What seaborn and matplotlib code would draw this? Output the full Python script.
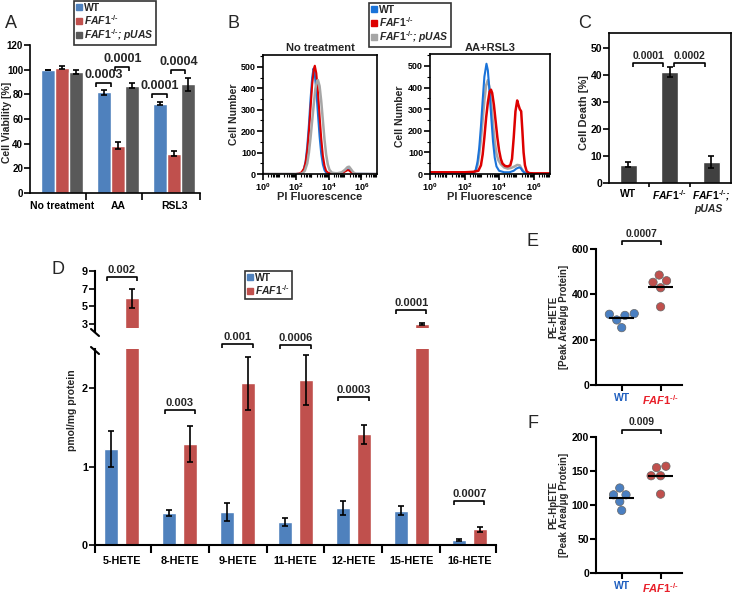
import numpy as np
import pandas as pd
import matplotlib
matplotlib.use("Agg")
import matplotlib.pyplot as plt
import seaborn as sns
from matplotlib.lines import Line2D
from matplotlib.ticker import AutoMinorLocator, LogLocator, NullFormatter

# ------------------------------------------------------------------ data
# Panel A: cell viability
A_treat = ["No treatment", "AA", "RSL3"]
A_wt = [100.0, 81.5, 72.5]
A_faf1 = [101.5, 38.5, 32.0]
A_puas = [98.0, 87.0, 88.0]
A_wt_err = [0.0, 2.0, 1.5]
A_faf1_err = [1.2, 3.0, 2.0]
A_puas_err = [1.5, 2.0, 5.0]
A_pvals = ["0.0003", "0.0001", "0.0001", "0.0004"]

# Panel B: flow cytometry histograms (log10 PI fluorescence, cell number)
NT_wt_x = [0.0, 2.0, 2.3, 2.4, 2.5, 2.6, 2.7, 2.8, 2.9, 3.0, 3.08, 3.15, 3.25, 3.35, 3.45, 3.55, 3.65, 3.75, 3.85, 4.0, 4.6, 4.8, 4.95, 5.1, 5.2, 5.3, 5.42, 5.55, 7.0]
NT_wt_y = [0, 0, 2, 8, 25, 60, 130, 230, 350, 450, 492, 470, 390, 280, 175, 95, 45, 18, 6, 2, 2, 5, 12, 20, 22, 16, 6, 1, 0]
NT_ko_x = [0.0, 2.0, 2.2, 2.35, 2.5, 2.6, 2.7, 2.8, 2.9, 3.0, 3.1, 3.16, 3.25, 3.35, 3.45, 3.55, 3.65, 3.75, 3.85, 4.0, 4.6, 4.85, 5.0, 5.15, 5.25, 5.35, 5.5, 5.65, 7.0]
NT_ko_y = [0, 0, 2, 8, 25, 55, 110, 200, 310, 420, 490, 505, 470, 380, 270, 165, 85, 38, 14, 4, 2, 6, 12, 18, 17, 10, 3, 0, 0]
NT_pu_x = [0.0, 2.2, 2.4, 2.55, 2.7, 2.8, 2.9, 3.0, 3.1, 3.2, 3.3, 3.35, 3.45, 3.55, 3.65, 3.75, 3.85, 3.95, 4.05, 4.2, 4.5, 4.8, 5.0, 5.15, 5.25, 5.35, 5.5, 5.65, 7.0]
NT_pu_y = [0, 0, 3, 15, 50, 100, 170, 250, 330, 400, 435, 438, 410, 340, 250, 160, 90, 45, 20, 6, 3, 8, 20, 32, 34, 24, 8, 1, 0]

AR_wt_x = [0.0, 2.4, 2.55, 2.65, 2.75, 2.85, 2.95, 3.05, 3.15, 3.27, 3.35, 3.45, 3.55, 3.65, 3.75, 3.85, 4.0, 4.3, 4.6, 4.85, 5.0, 5.15, 5.25, 5.35, 5.5, 5.7, 7.0]
AR_wt_y = [0, 0, 5, 20, 55, 120, 220, 340, 450, 510, 480, 380, 260, 150, 75, 35, 15, 8, 8, 15, 25, 30, 28, 15, 4, 0, 0]
AR_ko_x = [0.0, 1.0, 2.0, 2.5, 2.8, 2.95, 3.05, 3.15, 3.25, 3.35, 3.45, 3.53, 3.6, 3.7, 3.8, 3.9, 4.0, 4.1, 4.2, 4.35, 4.5, 4.65, 4.75, 4.85, 4.95, 5.05, 5.12, 5.2, 5.28, 5.35, 5.42, 5.5, 5.6, 5.75, 6.0, 7.0]
AR_ko_y = [8, 8, 8, 10, 15, 40, 90, 170, 260, 330, 380, 390, 375, 320, 245, 170, 110, 70, 48, 37, 35, 40, 70, 170, 290, 340, 320, 300, 290, 200, 100, 40, 12, 4, 3, 3]
AR_pu_x = [0.0, 2.3, 2.5, 2.65, 2.75, 2.85, 2.95, 3.05, 3.15, 3.25, 3.35, 3.45, 3.55, 3.65, 3.75, 3.85, 3.95, 4.1, 4.3, 4.5, 4.7, 4.9, 5.05, 5.2, 5.3, 5.45, 5.6, 5.8, 7.0]
AR_pu_y = [0, 0, 3, 15, 40, 90, 160, 250, 340, 410, 434, 400, 320, 230, 150, 95, 65, 45, 30, 25, 28, 35, 42, 40, 25, 8, 2, 0, 0]

# Panel C: cell death
C_cats = ["WT", "FAF1", "pUAS"]
C_vals = [6.8, 41.2, 7.7]
C_err = [1.0, 1.8, 2.2]
C_pvals = ["0.0001", "0.0002"]

# Panel D: HETE levels
D_cats = ["5-HETE", "8-HETE", "9-HETE", "11-HETE", "12-HETE", "15-HETE", "16-HETE"]
D_wt = [1.22, 0.41, 0.42, 0.29, 0.47, 0.44, 0.064]
D_wt_err = [0.23, 0.04, 0.12, 0.05, 0.09, 0.06, 0.01]
D_ko = [5.9, 1.29, 2.06, 2.10, 1.41, 3.0, 0.20]
D_ko_err = [1.05, 0.23, 0.34, 0.32, 0.12, 0.15, 0.035]
D_pvals = ["0.002", "0.003", "0.001", "0.0006", "0.0003", "0.0001", "0.0007"]

# Panel E / F: PE-HETE and PE-HpETE
E_wt = [312, 307, 315, 287, 253]
E_ko = [485, 453, 460, 429, 345]
E_p = "0.0007"
F_wt = [125, 115, 115, 105, 92]
F_ko = [155, 157, 143, 143, 116]
F_p = "0.009"

# ------------------------------------------------------------------ style
sns.set_theme(style="ticks")
plt.rcParams["font.family"] = ["Liberation Sans", "DejaVu Sans"]
plt.rcParams["mathtext.fontset"] = "custom"
plt.rcParams["mathtext.rm"] = "Liberation Sans:bold"
plt.rcParams["mathtext.bf"] = "Liberation Sans:bold"
plt.rcParams["mathtext.it"] = "Liberation Sans:italic:bold"
plt.rcParams["axes.linewidth"] = 1.2
plt.rcParams["xtick.major.width"] = 1.2
plt.rcParams["ytick.major.width"] = 1.2
plt.rcParams["xtick.color"] = "black"
plt.rcParams["ytick.color"] = "black"
plt.rcParams["axes.edgecolor"] = "black"

W, H = 733, 593
fig = plt.figure(figsize=(W / 100, H / 100), dpi=100)

def add_ax(l, t, r, b):
    return fig.add_axes([l / W, 1 - b / H, (r - l) / W, (b - t) / H])

def ftext(x, y, s, **kw):
    kw.setdefault("ha", "center")
    kw.setdefault("va", "center")
    fig.text(x / W, 1 - y / H, s, **kw)

FAF = r"$\mathit{FAF1}^{\mathit{‐/‐}}$"
FAFP = r"$\mathit{FAF1}^{\mathit{‐/‐}}$; $\mathit{pUAS}$"

def bracket(ax, x1, x2, y, text, fs=8, tick_px=4):
    yd = ax.transData.transform((0, y))[1]
    ylow = ax.transData.inverted().transform((0, yd - tick_px))[1]
    ax.plot([x1, x1, x2, x2], [ylow, y, y, ylow], color="black", lw=1.2, clip_on=False,
            solid_capstyle="butt", zorder=6)
    ax.annotate(text, xy=((x1 + x2) / 2, y), xytext=(0, 1.5), textcoords="offset points",
                ha="center", va="bottom", fontsize=fs, fontweight="bold", annotation_clip=False)

def bold_ticks(ax, size):
    for lab in ax.get_xticklabels() + ax.get_yticklabels():
        lab.set_fontweight("bold")
        lab.set_fontsize(size)

def add_errbars(ax, containers, errs, ymin=None):
    for cont, err in zip(containers, errs):
        xs, ys, es = [], [], []
        for p, e in zip(cont, err):
            h = p.get_height()
            if ymin is not None and h + e <= ymin:
                continue
            xs.append(p.get_x() + p.get_width() / 2)
            ys.append(h)
            es.append(e)
        if xs:
            ax.errorbar(xs, ys, yerr=es, fmt="none", ecolor="black", elinewidth=1.2,
                        capsize=2.5, capthick=1.2)

def make_legend(handles, labels, x, y, fs):
    leg = fig.legend(handles, labels, loc="upper left", bbox_to_anchor=(x / W, 1 - y / H),
                     frameon=True, fancybox=False, edgecolor="black", fontsize=fs,
                     handlelength=0.5, handletextpad=0.25, borderpad=0.2, labelspacing=0.0,
                     borderaxespad=0)
    leg.get_frame().set_linewidth(1.2)
    for t in leg.get_texts():
        t.set_fontweight("bold")
        if "pUAS" in t.get_text():
            t.set_fontstyle("italic")
    return leg

blueX, redX, greyX = "#4F81BD", "#C0504D", "#595959"

# ------------------------------------------------------------------ Panel A
axA = add_ax(30, 45, 200, 193)
dfA = pd.DataFrame({
    "treat": A_treat * 3,
    "geno": ["WT"] * 3 + ["FAF1"] * 3 + ["pUAS"] * 3,
    "val": A_wt + A_faf1 + A_puas,
})
sns.barplot(data=dfA, x="treat", y="val", hue="geno", hue_order=["WT", "FAF1", "pUAS"],
            palette=[blueX, redX, greyX], width=0.75, errorbar=None, saturation=1,
            legend=False, ax=axA)
add_errbars(axA, axA.containers, [A_wt_err, A_faf1_err, A_puas_err])
axA.set_xlim(-0.57, 2.46)
axA.set_ylim(0, 120)
axA.set_yticks(range(0, 121, 20))
axA.set_xlabel("")
axA.set_ylabel("")
axA.set_xticks(range(3), labels=A_treat)
axA.tick_params(axis="x", length=0, pad=6)
axA.set_xticks([0.43, 1.43, 2.46], minor=True)
axA.tick_params(axis="x", which="minor", length=5, width=1.2, direction="out")
axA.tick_params(axis="y", length=4, pad=1)
sns.despine(ax=axA)
bold_ticks(axA, 7)
for lab in axA.get_xticklabels():
    lab.set_fontsize(7.5)
A_br_pos = [(1, -0.39, -0.12, 89), (1, -0.05, 0.2, 102), (2, -0.39, -0.12, 80), (2, -0.05, 0.2, 100)]
for (g, a, b, yy), p in zip(A_br_pos, A_pvals):
    bracket(axA, g + a, g + b, yy, p, fs=9)
ftext(7, 122, "Cell Viability [%]", rotation=90, fontsize=7.5, fontweight="bold")
ftext(11, 24, "A", fontsize=13)
hA = [Line2D([], [], marker="s", ls="", color=c, markersize=4) for c in (blueX, redX, greyX)]
make_legend(hA, ["WT", FAF, FAFP], 74, 1, 7.5)

# ------------------------------------------------------------------ Panel B
blueB, redB, greyB = "#1A73D9", "#DD0000", "#A6A6A6"

def flow_panel(ax, curves, title, cx):
    for xs, ys, col, lw in curves:
        sns.lineplot(x=10 ** np.asarray(xs), y=ys, color=col, lw=lw, ax=ax, sort=False)
    ax.set_xscale("log")
    ax.set_xlim(1, 10 ** 6.95)
    ax.set_ylim(0, 555)
    ax.set_xticks([1, 1e2, 1e4, 1e6],
                  labels=[r"$\mathbf{10^{0}}$", r"$\mathbf{10^{2}}$", r"$\mathbf{10^{4}}$", r"$\mathbf{10^{6}}$"])
    ax.xaxis.set_minor_locator(LogLocator(base=10, subs=np.arange(2, 10) * 1.0, numticks=20))
    ax.xaxis.set_minor_formatter(NullFormatter())
    ax.set_yticks(range(0, 501, 100))
    ax.yaxis.set_minor_locator(AutoMinorLocator(2))
    ax.tick_params(which="major", length=4, pad=1, direction="out")
    ax.tick_params(which="minor", length=2, width=0.8, direction="out")
    ax.set_xlabel("")
    ax.set_ylabel("")
    for s in ax.spines.values():
        s.set_linewidth(1.2)
    bold_ticks(ax, 6.5)
    ftext(cx, 48, title, fontsize=8, fontweight="bold")
    ftext(cx, 197, "PI Fluorescence", fontsize=8, fontweight="bold")

axB1 = add_ax(263, 55, 377, 174)
flow_panel(axB1, [(NT_wt_x, NT_wt_y, blueB, 1.5), (NT_ko_x, NT_ko_y, redB, 1.5),
                  (NT_pu_x, NT_pu_y, greyB, 1.8)], "No treatment", 320)
axB2 = add_ax(430, 54, 550, 174)
flow_panel(axB2, [(AR_pu_x, AR_pu_y, greyB, 1.8), (AR_wt_x, AR_wt_y, blueB, 1.5),
                  (AR_ko_x, AR_ko_y, redB, 1.8)], "AA+RSL3", 490)
ftext(234, 114, "Cell Number", rotation=90, fontsize=7.5, fontweight="bold")
ftext(400, 116, "Cell Number", rotation=90, fontsize=7.5, fontweight="bold")
ftext(234, 23, "B", fontsize=13)
hB = [Line2D([], [], marker="s", ls="", color=c, markersize=4) for c in (blueB, redB, greyB)]
make_legend(hB, ["WT", FAF, FAFP], 369, 3, 7.5)

# ------------------------------------------------------------------ Panel C
axC = add_ax(609, 33, 731, 183)
dfC = pd.DataFrame({"cat": C_cats, "val": C_vals})
sns.barplot(data=dfC, x="cat", y="val", color="#404040", width=0.41, errorbar=None,
            saturation=1, ax=axC)
add_errbars(axC, axC.containers, [C_err])
axC.set_xlim(-0.46, 2.48)
axC.set_ylim(0, 55.5)
axC.set_yticks(range(0, 51, 10))
axC.set_xlabel("")
axC.set_ylabel("")
axC.set_xticks(range(3), labels=["WT", FAF, FAF + ";"])
axC.tick_params(axis="x", length=0, pad=4)
axC.set_xticks([0.5, 1.5], minor=True)
axC.tick_params(axis="x", which="minor", length=3, width=1.2, direction="out")
axC.tick_params(axis="y", length=4, pad=1)
bold_ticks(axC, 7.5)
axC.get_xticklabels()[2].set_fontstyle("italic")
bracket(axC, 0.12, 0.84, 44.4, C_pvals[0], fs=7.5)
bracket(axC, 1.1, 1.85, 44.4, C_pvals[1], fs=7.5)
ftext(708, 209, "pUAS", fontsize=7.5, fontweight="bold", fontstyle="italic")
ftext(584, 113, "Cell Death [%]", rotation=90, fontsize=8, fontweight="bold")
ftext(585, 23, "C", fontsize=13)

# ------------------------------------------------------------------ Panel D
dfD = pd.DataFrame({
    "cat": D_cats * 2,
    "geno": ["WT"] * 7 + ["FAF1"] * 7,
    "val": D_wt + D_ko,
})
axDl = add_ax(95, 349, 496, 545)
axDu = add_ax(95, 271, 496, 328)
D_ylims = {axDl: (0, 2.50), axDu: (2.55, 9.0)}
for ax in (axDl, axDu):
    sns.barplot(data=dfD, x="cat", y="val", hue="geno", hue_order=["WT", "FAF1"],
                palette=[blueX, redX], width=0.74, gap=0.35, errorbar=None, saturation=1,
                legend=False, ax=ax)
    add_errbars(ax, ax.containers, [D_wt_err, D_ko_err],
                ymin=D_ylims[ax][0] if ax is axDu else None)
    ax.set_xlim(-0.46, 6.46)
    ax.set_ylim(*D_ylims[ax])
    ax.set_xlabel("")
    ax.set_ylabel("")
    ax.patch.set_alpha(0)
axDl.set_yticks([0, 1, 2])
axDu.set_yticks([3, 5, 7, 9])
sns.despine(ax=axDl)
sns.despine(ax=axDu, bottom=True)
axDu.spines["left"].set_bounds(2.2, 9.0)
axDu.set_xticks([])
axDl.set_xticks(range(7), labels=D_cats)
axDl.tick_params(axis="x", length=0, pad=8)
axDl.set_xticks([-0.46, 0.5, 1.5, 2.5, 3.5, 4.5, 5.5, 6.46], minor=True)
axDl.tick_params(axis="x", which="minor", length=6, width=1.5, direction="out")
for ax in (axDl, axDu):
    ax.tick_params(axis="y", length=4, pad=1)
    ax.spines["left"].set_linewidth(1.5)
    bold_ticks(ax, 7.8)
axDu.spines["left"].set_clip_on(False)
axDl.spines["bottom"].set_linewidth(1.5)
# brackets
D_br_lower = [None, 1.72, 2.56, 2.55, 1.89, 3.0, 0.56]
for i, (yy, p) in enumerate(zip(D_br_lower, D_pvals)):
    if yy is None:
        bracket(axDu, i - 0.26, i + 0.26, 8.3, p, fs=8)
    else:
        bracket(axDl, i - 0.26, i + 0.26, yy, p, fs=8)
# axis break marks
for yb in (333, 351):
    fig.add_artist(Line2D([91 / W, 99 / W], [1 - (yb - 4) / H, 1 - (yb + 3) / H],
                          color="black", lw=1.5))
ftext(72, 410, "pmol/mg protein", rotation=90, fontsize=7.5, fontweight="bold")
ftext(58, 269, "D", fontsize=13)
hD = [Line2D([], [], marker="s", ls="", color=c, markersize=4) for c in (blueX, redX)]
make_legend(hD, ["WT", FAF], 245, 271, 7.5)

# ------------------------------------------------------------------ Panels E, F
blueE, redE = "#4A7FC1", "#C0504D"

def dot_panel(ax, wt, ko, top, ticks, p, p_y):
    df = pd.DataFrame({"geno": ["WT"] * len(wt) + ["FAF1"] * len(ko), "val": wt + ko})
    sns.swarmplot(data=df, x="geno", y="val", hue="geno", order=["WT", "FAF1"],
                  palette={"WT": blueE, "FAF1": redE}, size=6, edgecolor="#666666",
                  linewidth=0.5, legend=False, ax=ax)
    for i, vals in enumerate([wt, ko]):
        ax.hlines(np.mean(vals), i - 0.32, i + 0.32, color="black", lw=1.5, zorder=5)
    ax.set_xlim(-0.66, 1.55)
    ax.set_ylim(0, top)
    ax.set_yticks(ticks)
    ax.set_xlabel("")
    ax.set_ylabel("")
    ax.set_xticks([0, 1], labels=["WT", FAF])
    ax.tick_params(axis="x", length=4, width=1.5, direction="out", pad=2)
    ax.tick_params(axis="y", length=4, width=1.5, pad=1)
    sns.despine(ax=ax)
    ax.spines["left"].set_linewidth(1.5)
    ax.spines["bottom"].set_linewidth(1.5)
    bold_ticks(ax, 7.5)
    labs = ax.get_xticklabels()
    labs[0].set_color("#1F5FBF")
    labs[1].set_color("#E8202A")
    labs[1].set_fontsize(8)
    bracket(ax, 0.0, 1.0, p_y, p, fs=7.5)

axE = add_ax(596, 249, 682, 385)
dot_panel(axE, E_wt, E_ko, 600, [0, 200, 400, 600], E_p, 634)
axF = add_ax(596, 437, 682, 573)
dot_panel(axF, F_wt, F_ko, 200, [0, 50, 100, 150, 200], F_p, 211)
ftext(559, 317, "PE-HETE\n[Peak Area/μg Protein]", rotation=90, fontsize=7, fontweight="bold",
      multialignment="center", linespacing=1.1)
ftext(559, 505, "PE-HpETE\n[Peak Area/μg Protein]", rotation=90, fontsize=7, fontweight="bold",
      multialignment="center", linespacing=1.1)
ftext(533, 241, "E", fontsize=13)
ftext(533, 424, "F", fontsize=13)

fig.savefig("out.png", dpi=100)
